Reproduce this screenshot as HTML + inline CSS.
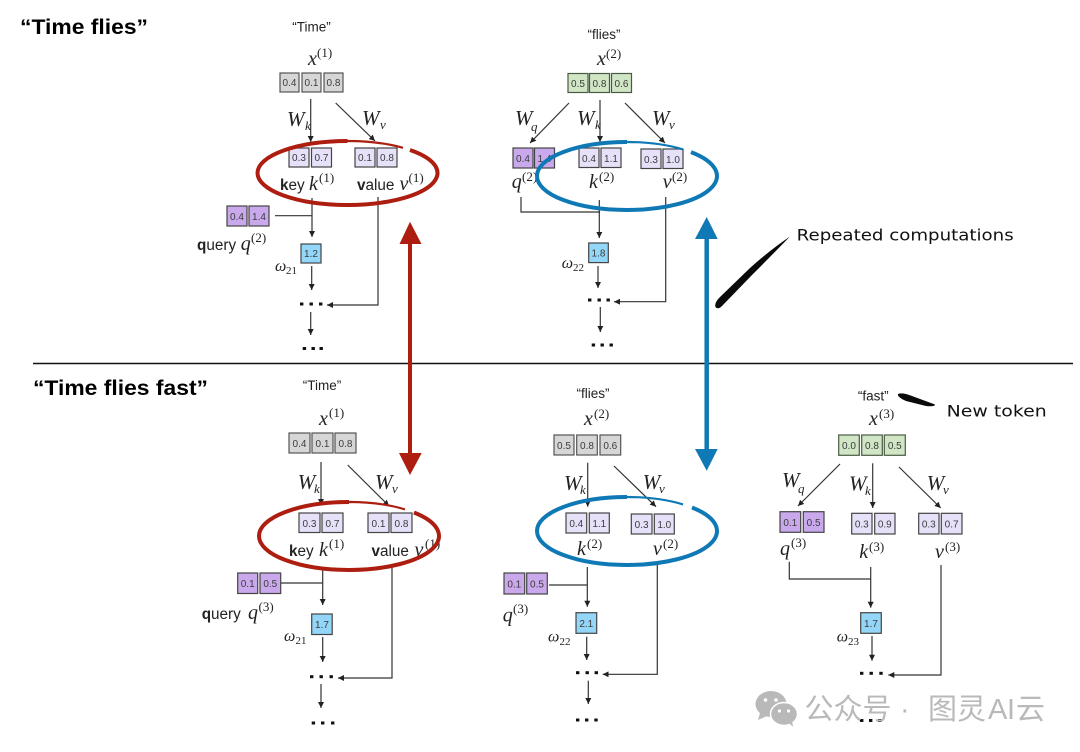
<!DOCTYPE html>
<html>
<head>
<meta charset="utf-8">
<style>
html,body{margin:0;padding:0;background:#fff;width:1080px;height:752px;overflow:hidden}
svg{display:block;filter:blur(.35px)}
text{font-family:"Liberation Sans",sans-serif}
.n{font-size:10px;fill:#3c3c3c;text-anchor:middle}
.l{font-size:13.5px;fill:#222;text-anchor:middle}
.m{font-family:"Liberation Serif",serif;font-style:italic;font-size:20px;fill:#222}
.W{font-family:"Liberation Serif",serif;font-style:italic;font-size:21px;fill:#222}
.s{font-family:"Liberation Serif",serif;font-style:italic;font-size:13px;fill:#222}
.u{font-family:"Liberation Serif",serif;font-size:13px;fill:#222}
.o{font-family:"Liberation Serif",serif;font-style:italic;font-size:16px;fill:#222}
.d{font-family:"Liberation Serif",serif;font-size:11px;fill:#222}
.t{font-size:15.3px;fill:#222}
.h{font-size:21.5px;font-weight:bold;fill:#000}
.hw{font-family:"DejaVu Sans",sans-serif;font-size:16px;fill:#111}
.g rect{fill:#d6d6d6;stroke:#555;stroke-width:1.2}
.c rect{fill:#d0e6c5;stroke:#4a5a44;stroke-width:1.2}
.k rect{fill:#e6e1f9;stroke:#444;stroke-width:1.2}
.p rect{fill:#c9a8ec;stroke:#444;stroke-width:1.2}
.b rect{fill:#93d6f8;stroke:#444;stroke-width:1.2}
.ln{fill:none;stroke:#333;stroke-width:1.2}
.ar{marker-end:url(#a)}
.wm{font-family:"Liberation Sans","Noto Sans CJK SC",sans-serif;font-size:29px;fill:#b9b9b9}
.er{fill:none;stroke:#ad1d10;stroke-width:4}
.eb{fill:none;stroke:#0f79b6;stroke-width:4}
</style>
</head>
<body>
<svg width="1080" height="752" viewBox="0 0 1080 752" xmlns="http://www.w3.org/2000/svg">
<defs>
<marker id="a" markerUnits="userSpaceOnUse" markerWidth="7" markerHeight="7" refX="6" refY="3" orient="auto">
<path d="M0,0 L6,3 L0,6 Z" fill="#222"/>
</marker>
</defs>
<rect width="1080" height="752" fill="#fff"/>

<text class="h" x="20" y="34" textLength="128" lengthAdjust="spacingAndGlyphs">“Time flies”</text>
<text class="h" x="33" y="395" textLength="175" lengthAdjust="spacingAndGlyphs">“Time flies fast”</text>
<line x1="33" y1="363.5" x2="1073" y2="363.5" stroke="#111" stroke-width="1.5"/>

<!-- Panel 1 -->
<text class="l" x="311.5" y="31.5">“Time”</text>
<text class="m" x="308" y="65">x</text><text class="u" x="317" y="57">(1)</text>
<g class="g"><rect x="280" y="73" width="19" height="19"/><rect x="302" y="73" width="19" height="19"/><rect x="324" y="73" width="19" height="19"/></g>
<text class="n" x="289.5" y="86">0.4</text><text class="n" x="311.5" y="86">0.1</text><text class="n" x="333.5" y="86">0.8</text>
<line class="ln ar" x1="310.7" y1="99" x2="310.7" y2="142"/>
<line class="ln ar" x1="335.7" y1="103" x2="375" y2="141"/>
<text class="W" x="287" y="126">W</text><text class="s" x="305" y="130">k</text>
<text class="W" x="362" y="125">W</text><text class="s" x="380" y="129">v</text>
<g class="k"><rect x="289" y="148" width="20" height="19"/><rect x="311.5" y="148" width="20" height="19"/><rect x="355" y="148" width="20" height="19"/><rect x="377" y="148" width="20" height="19"/></g>
<text class="n" x="299" y="161">0.3</text><text class="n" x="321.5" y="161">0.7</text><text class="n" x="365" y="161">0.1</text><text class="n" x="387" y="161">0.8</text>
<text class="t" x="280" y="190"><tspan font-weight="bold">k</tspan>ey</text><text class="m" x="309" y="190">k</text><text class="u" x="319" y="182">(1)</text>
<text class="t" x="357" y="190"><tspan font-weight="bold">v</tspan>alue</text><text class="m" x="399.5" y="190">v</text><text class="u" x="408.5" y="182">(1)</text>
<line class="ln ar" x1="312" y1="198" x2="312" y2="237"/>
<g class="p"><rect x="227" y="206" width="20" height="20"/><rect x="249" y="206" width="20" height="20"/></g>
<text class="n" x="237" y="220">0.4</text><text class="n" x="259" y="220">1.4</text>
<line class="ln" x1="275" y1="215.7" x2="312" y2="215.7"/>
<text class="t" x="197" y="250"><tspan font-weight="bold">q</tspan>uery</text><text class="m" x="240.7" y="250">q</text><text class="u" x="251" y="242">(2)</text>
<g class="b"><rect x="301" y="244" width="20" height="19"/></g><text class="n" x="311" y="257">1.2</text>
<text class="o" x="275" y="271">ω</text><text class="d" x="286" y="274">21</text>
<line class="ln ar" x1="311.7" y1="266" x2="311.7" y2="290"/>
<g fill="#111"><rect x="300" y="302.5" width="3.4" height="3"/><rect x="309.5" y="302.5" width="3.4" height="3"/><rect x="319" y="302.5" width="3.4" height="3"/></g>
<path class="ln ar" d="M378,197 V305 H327"/>
<line class="ln ar" x1="310.7" y1="312" x2="310.7" y2="335"/>
<g fill="#111"><rect x="302.7" y="347" width="3.4" height="3"/><rect x="311.5" y="347" width="3.4" height="3"/><rect x="319.5" y="347" width="3.4" height="3"/></g>
<path class="er" d="M410,149.97 A90 32 0 0 1 347.5,205 A90 32 0 0 1 257.5,173 A90 32 0 0 1 347.5,141"/>
<path class="er" style="stroke-width:2.2" d="M347.5,141 A90 32 0 0 1 403,147.81"/>

<!-- Panel 2 -->
<text class="l" x="604" y="39">“flies”</text>
<text class="m" x="597" y="65">x</text><text class="u" x="606" y="58">(2)</text>
<g class="c"><rect x="568" y="73.5" width="20" height="19"/><rect x="589.5" y="73.5" width="20" height="19"/><rect x="611.5" y="73.5" width="20" height="19"/></g>
<text class="n" x="578" y="87">0.5</text><text class="n" x="599.5" y="87">0.8</text><text class="n" x="621.5" y="87">0.6</text>
<line class="ln ar" x1="569" y1="103" x2="530" y2="143"/>
<line class="ln ar" x1="600" y1="100" x2="600" y2="142"/>
<line class="ln ar" x1="625" y1="103" x2="665" y2="143"/>
<text class="W" x="515" y="125">W</text><text class="s" x="531" y="131">q</text>
<text class="W" x="577" y="125">W</text><text class="s" x="595" y="129">k</text>
<text class="W" x="652" y="125">W</text><text class="s" x="669" y="129">v</text>
<g class="p"><rect x="513" y="148" width="20" height="20"/><rect x="534.5" y="148" width="20" height="20"/></g>
<text class="n" x="523" y="162">0.4</text><text class="n" x="544.5" y="162">1.4</text>
<g class="k"><rect x="579" y="148" width="20" height="19.5"/><rect x="601" y="148" width="20" height="19.5"/><rect x="641" y="149" width="20" height="19.5"/><rect x="663" y="149" width="20" height="19.5"/></g>
<text class="n" x="589" y="162">0.4</text><text class="n" x="611" y="162">1.1</text><text class="n" x="651" y="163">0.3</text><text class="n" x="673" y="163">1.0</text>
<text class="m" x="511.7" y="188">q</text><text class="u" x="522" y="181">(2)</text>
<text class="m" x="589" y="188">k</text><text class="u" x="599" y="181">(2)</text>
<text class="m" x="662.7" y="188">v</text><text class="u" x="672" y="181">(2)</text>
<path class="ln" d="M521,197 V212 H600"/>
<line class="ln ar" x1="599.3" y1="200" x2="599.3" y2="238"/>
<g class="b"><rect x="588.7" y="243" width="19.6" height="19.6"/></g><text class="n" x="598.5" y="256.5">1.8</text>
<text class="o" x="561.7" y="268">ω</text><text class="d" x="573" y="271">22</text>
<line class="ln ar" x1="598" y1="266" x2="598" y2="288"/>
<g fill="#111"><rect x="588" y="298.5" width="3.4" height="3"/><rect x="597.5" y="298.5" width="3.4" height="3"/><rect x="606.5" y="298.5" width="3.4" height="3"/></g>
<path class="ln ar" d="M665.7,197 V301.7 H614"/>
<line class="ln ar" x1="600.3" y1="307" x2="600.3" y2="332"/>
<g fill="#111"><rect x="591.7" y="343.5" width="3.4" height="3"/><rect x="600.5" y="343.5" width="3.4" height="3"/><rect x="609.5" y="343.5" width="3.4" height="3"/></g>
<path class="eb" d="M691,152.1 A90 34 0 0 1 627,210 A90 34 0 0 1 537,176 A90 34 0 0 1 627,142"/>
<path class="eb" style="stroke-width:2.2" d="M627,142 A90 34 0 0 1 683,149.4"/>

<!-- Panel 3 -->
<text class="l" x="322" y="390">“Time”</text>
<text class="m" x="319" y="425">x</text><text class="u" x="329" y="417">(1)</text>
<g class="g"><rect x="289" y="433" width="21" height="20"/><rect x="312" y="433" width="21" height="20"/><rect x="335" y="433" width="21" height="20"/></g>
<text class="n" x="299.5" y="447">0.4</text><text class="n" x="322.5" y="447">0.1</text><text class="n" x="345.5" y="447">0.8</text>
<line class="ln ar" x1="321" y1="462" x2="321" y2="505"/>
<line class="ln ar" x1="347.7" y1="465" x2="389" y2="506"/>
<text class="W" x="297.7" y="489">W</text><text class="s" x="314" y="493">k</text>
<text class="W" x="375" y="489">W</text><text class="s" x="392" y="493">v</text>
<g class="k"><rect x="299" y="513" width="21" height="19.5"/><rect x="322" y="513" width="21" height="19.5"/><rect x="368" y="513" width="21" height="19.5"/><rect x="391" y="513" width="21" height="19.5"/></g>
<text class="n" x="309.5" y="527">0.3</text><text class="n" x="332.5" y="527">0.7</text><text class="n" x="378.5" y="527">0.1</text><text class="n" x="401.5" y="527">0.8</text>
<text class="t" x="289" y="556"><tspan font-weight="bold">k</tspan>ey</text><text class="m" x="319" y="556">k</text><text class="u" x="329" y="548">(1)</text>
<text class="t" x="371.5" y="556"><tspan font-weight="bold">v</tspan>alue</text><text class="m" x="414.5" y="556">v</text><text class="u" x="425" y="548">(1)</text>
<line class="ln ar" x1="322.7" y1="569" x2="322.7" y2="605"/>
<g class="p"><rect x="237.7" y="573" width="20" height="20.5"/><rect x="260" y="573" width="20.7" height="20.5"/></g>
<text class="n" x="247.7" y="587">0.1</text><text class="n" x="270.3" y="587">0.5</text>
<line class="ln" x1="281" y1="583" x2="322.7" y2="583"/>
<text class="t" x="201.7" y="619"><tspan font-weight="bold">q</tspan>uery</text><text class="m" x="248" y="619">q</text><text class="u" x="258.5" y="611">(3)</text>
<g class="b"><rect x="311.7" y="614" width="20.5" height="20.5"/></g><text class="n" x="322" y="628">1.7</text>
<text class="o" x="284" y="641">ω</text><text class="d" x="295.5" y="644">21</text>
<line class="ln ar" x1="322.7" y1="637" x2="322.7" y2="662"/>
<g fill="#111"><rect x="310" y="675.2" width="3.4" height="3"/><rect x="319.5" y="675.2" width="3.4" height="3"/><rect x="329.5" y="675.2" width="3.4" height="3"/></g>
<path class="ln ar" d="M392,567 V678 H338"/>
<line class="ln ar" x1="321" y1="684" x2="321" y2="708"/>
<g fill="#111"><rect x="311.7" y="721.5" width="3.4" height="3"/><rect x="321" y="721.5" width="3.4" height="3"/><rect x="331" y="721.5" width="3.4" height="3"/></g>
<path class="er" d="M414,512.48 A90 34 0 0 1 349,570 A90 34 0 0 1 259,536 A90 34 0 0 1 349,502"/>
<path class="er" style="stroke-width:2.2" d="M349,502 A90 34 0 0 1 405,509.38"/>

<!-- Panel 4 -->
<text class="l" x="593" y="398">“flies”</text>
<text class="m" x="584" y="425">x</text><text class="u" x="594" y="418">(2)</text>
<g class="g"><rect x="554" y="435" width="20" height="20"/><rect x="576.7" y="435" width="20.6" height="20"/><rect x="600" y="435" width="20.7" height="20"/></g>
<text class="n" x="564" y="449">0.5</text><text class="n" x="587" y="449">0.8</text><text class="n" x="610.3" y="449">0.6</text>
<line class="ln ar" x1="587.7" y1="462.7" x2="587.7" y2="506.7"/>
<line class="ln ar" x1="614" y1="466" x2="656" y2="506.7"/>
<text class="W" x="564" y="490">W</text><text class="s" x="580" y="494">k</text>
<text class="W" x="642.7" y="489">W</text><text class="s" x="659" y="493">v</text>
<g class="k"><rect x="566" y="513" width="20.7" height="20"/><rect x="589.3" y="513" width="20" height="20"/><rect x="631.3" y="514" width="20.7" height="20"/><rect x="654.3" y="514" width="20" height="20"/></g>
<text class="n" x="576.3" y="527">0.4</text><text class="n" x="599.3" y="527">1.1</text><text class="n" x="641.6" y="528">0.3</text><text class="n" x="664.3" y="528">1.0</text>
<text class="m" x="577" y="555">k</text><text class="u" x="587" y="548">(2)</text>
<text class="m" x="653" y="555">v</text><text class="u" x="663" y="548">(2)</text>
<line class="ln ar" x1="587.3" y1="567" x2="587.3" y2="606.7"/>
<g class="p"><rect x="504" y="573" width="20.7" height="21"/><rect x="526.7" y="573" width="20.6" height="21"/></g>
<text class="n" x="514.3" y="587.5">0.1</text><text class="n" x="537" y="587.5">0.5</text>
<line class="ln" x1="549" y1="585" x2="587.3" y2="585"/>
<text class="m" x="502.7" y="621.7">q</text><text class="u" x="513" y="613">(3)</text>
<g class="b"><rect x="576" y="612.7" width="20.7" height="20.6"/></g><text class="n" x="586.3" y="627">2.1</text>
<text class="o" x="548" y="641.7">ω</text><text class="d" x="559.5" y="645">22</text>
<line class="ln ar" x1="586.7" y1="636.7" x2="586.7" y2="660"/>
<g fill="#111"><rect x="576" y="671.2" width="3.4" height="3"/><rect x="585.5" y="671.2" width="3.4" height="3"/><rect x="594.6" y="671.2" width="3.4" height="3"/></g>
<path class="ln ar" d="M657.3,563 V674.3 H602.7"/>
<line class="ln ar" x1="588.3" y1="680.7" x2="588.3" y2="704"/>
<g fill="#111"><rect x="576" y="718.5" width="3.4" height="3"/><rect x="585" y="718.5" width="3.4" height="3"/><rect x="594.3" y="718.5" width="3.4" height="3"/></g>
<path class="eb" d="M692,507.48 A90 34 0 0 1 627,565 A90 34 0 0 1 537,531 A90 34 0 0 1 627,497"/>
<path class="eb" style="stroke-width:2.2" d="M627,497 A90 34 0 0 1 683,504.4"/>

<!-- Panel 5 -->
<text class="l" x="873.3" y="400.7">“fast”</text>
<text class="m" x="869" y="425">x</text><text class="u" x="879" y="418">(3)</text>
<g class="c"><rect x="838.7" y="435" width="20.6" height="20.3"/><rect x="861.7" y="435" width="20.6" height="20.3"/><rect x="884.3" y="435" width="21" height="20.3"/></g>
<text class="n" x="849" y="449">0.0</text><text class="n" x="872" y="449">0.8</text><text class="n" x="894.8" y="449">0.5</text>
<line class="ln ar" x1="840" y1="464" x2="798" y2="506"/>
<line class="ln ar" x1="872.7" y1="463.3" x2="872.7" y2="508"/>
<line class="ln ar" x1="899" y1="467" x2="940.7" y2="508"/>
<text class="W" x="782" y="487">W</text><text class="s" x="798" y="493">q</text>
<text class="W" x="849" y="490.7">W</text><text class="s" x="865" y="495">k</text>
<text class="W" x="926.7" y="490">W</text><text class="s" x="943" y="494">v</text>
<g class="p"><rect x="780" y="511.7" width="20.7" height="20.6"/><rect x="803.3" y="511.7" width="20.7" height="20.6"/></g>
<text class="n" x="790.3" y="526">0.1</text><text class="n" x="813.6" y="526">0.5</text>
<g class="k"><rect x="851.7" y="513.3" width="20.3" height="20.7"/><rect x="874.7" y="513.3" width="20.3" height="20.7"/><rect x="918.7" y="513.3" width="20.3" height="20.7"/><rect x="941.3" y="513.3" width="20.7" height="20.7"/></g>
<text class="n" x="861.8" y="527.5">0.3</text><text class="n" x="884.8" y="527.5">0.9</text><text class="n" x="928.8" y="527.5">0.3</text><text class="n" x="951.6" y="527.5">0.7</text>
<text class="m" x="780" y="555">q</text><text class="u" x="791" y="547">(3)</text>
<text class="m" x="859.3" y="558">k</text><text class="u" x="869" y="551">(3)</text>
<text class="m" x="935" y="558">v</text><text class="u" x="945" y="551">(3)</text>
<path class="ln" d="M789.3,561.7 V579 H870.7"/>
<line class="ln ar" x1="870.7" y1="567" x2="870.7" y2="607.7"/>
<g class="b"><rect x="860.7" y="612.7" width="20.6" height="20.6"/></g><text class="n" x="871" y="627">1.7</text>
<text class="o" x="836.7" y="641.7">ω</text><text class="d" x="848" y="645">23</text>
<line class="ln ar" x1="872" y1="636" x2="872" y2="660.7"/>
<g fill="#111"><rect x="860" y="671.8" width="3.4" height="3"/><rect x="869.5" y="671.8" width="3.4" height="3"/><rect x="879.3" y="671.8" width="3.4" height="3"/></g>
<path class="ln ar" d="M941,565 V675 H888.3"/>
<g fill="#111"><rect x="860" y="719" width="3.4" height="3"/><rect x="869" y="719" width="3.4" height="3"/><rect x="878" y="719" width="3.4" height="3"/></g>

<!-- Big arrows -->
<line x1="410" y1="240" x2="410" y2="455" stroke="#ad1d10" stroke-width="4"/>
<path d="M410,221.7 L421.5,244 L399.5,244 Z M399,453 L421.7,453 L410,475 Z" fill="#ad1d10"/>
<line x1="706.7" y1="235" x2="706.7" y2="451" stroke="#0f79b6" stroke-width="4.5"/>
<path d="M706.7,217 L717.7,239 L695,239 Z M695,449 L717.7,449 L706.7,470.7 Z" fill="#0f79b6"/>

<!-- Annotations -->
<path d="M790,236.5 Q770,250 750,268 L720,297 Q714,303 715.5,307 Q718,310 722,306 L752,275 Q772,255 790,236.5 Z" fill="#0a0a0a"/>
<path d="M898,394 Q902,392 912,396 L935,404.5 Q935,407 926,406 L906,401 Q897,397 898,394 Z" fill="#0a0a0a"/>
<text class="hw" x="796.7" y="240.7" textLength="217" lengthAdjust="spacingAndGlyphs">Repeated computations</text>
<text class="hw" x="946.7" y="416.7" textLength="100" lengthAdjust="spacingAndGlyphs">New token</text>

<!-- Watermark -->
<ellipse cx="771" cy="704" rx="15.5" ry="13" fill="#b9b9b9"/>
<path d="M760,713 L758,720 L767,716 Z" fill="#b9b9b9"/>
<circle cx="765.5" cy="700" r="1.8" fill="#fff"/><circle cx="776" cy="700" r="1.8" fill="#fff"/>
<ellipse cx="784" cy="714" rx="13.5" ry="11.5" fill="#b9b9b9" stroke="#fff" stroke-width="1.5"/>
<path d="M789,723 L793,727 L792,720 Z" fill="#b9b9b9"/>
<circle cx="779.5" cy="711" r="1.6" fill="#fff"/><circle cx="788.5" cy="711" r="1.6" fill="#fff"/>
<text class="wm" y="719"><tspan x="804.5">公众号</tspan><tspan x="900">·</tspan><tspan x="928">图灵</tspan><tspan x="988" textLength="27">AI</tspan><tspan x="1016">云</tspan></text>
</svg>
</body>
</html>
